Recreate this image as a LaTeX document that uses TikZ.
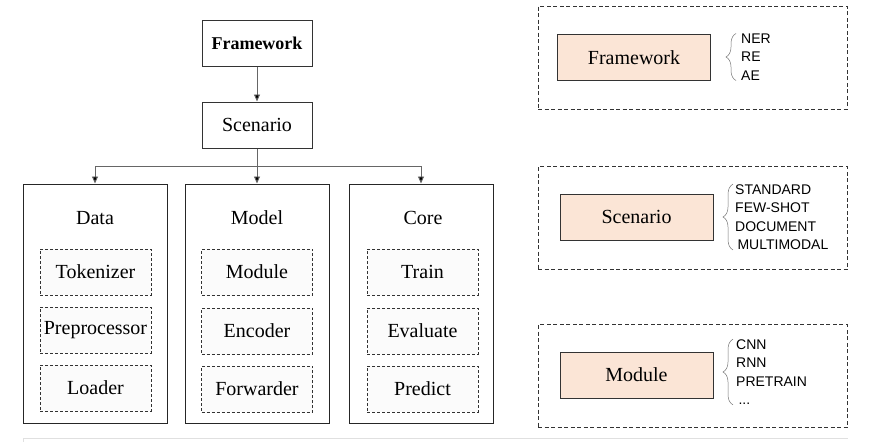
\documentclass[tikz,border=0pt]{standalone}
\usepackage{fontspec}
\setmainfont{Liberation Serif}
\setsansfont{Liberation Sans}
\usetikzlibrary{arrows.meta,positioning,decorations.pathreplacing}
\definecolor{peach}{HTML}{FBE5D6}

\begin{document}
\begin{tikzpicture}[x=1pt,y=-1pt,
 box/.style={draw=black!80,line width=1pt,minimum width=110pt,minimum height=46pt,font=\fontsize{20}{24}\selectfont},
 col/.style={draw=black!85,line width=0.95pt,minimum width=144pt,minimum height=239pt},
 ttl/.style={font=\fontsize{20}{24}\selectfont},
 sub/.style={draw=black!80,dash pattern=on 3pt off 2pt,line width=0.9pt,fill=gray!3,inner sep=1pt,minimum width=111pt,minimum height=46pt,font=\fontsize{20}{24}\selectfont},
 grp/.style={draw=black!80,dash pattern=on 4pt off 2.5pt,line width=0.9pt,minimum width=309pt,minimum height=103pt},
 key/.style={draw=black!80,line width=0.9pt,fill=peach,minimum width=153pt,minimum height=46pt,font=\fontsize{20}{24}\selectfont},
 lst/.style={anchor=west,align=left,inner sep=0pt,font=\sffamily\fontsize{14}{18.5}\selectfont},
 brc/.style={draw=black!55,line width=0.5pt,decorate,decoration={brace,amplitude=10pt}},
 arr/.style={draw=black!60,line width=0.9pt,-{Triangle[length=7pt,width=6pt,fill=black]}}]
\useasboundingbox (0,0) rectangle (872,442);
% hierarchy
\node[box,font=\bfseries\fontsize{18}{22}\selectfont] (fw) at (257,43) {Framework};
\node[box] (sc) at (257,125) {Scenario};
\node[col] (data) at (95,303.5) {};
\node[col] (model) at (257,303.5) {};
\node[col] (core) at (421,303.5) {};
\coordinate (split) at (257,166);
\draw[arr] (fw)--(sc);
\draw[draw=black!60,line width=0.9pt] (sc)--(split);
\draw[arr] (split)-|(data.north);\draw[arr] (split)--(model.north);\draw[arr] (split)-|(core.north);
% column contents
\node[ttl] (tdata) at (95,218) {Data};
\node[sub] (tok) at (95.5,272) {Tokenizer};
\node[sub] (pre) at (95.5,330) {Preprocessor};
\node[sub] (load) at (95.5,388) {Loader};
\node[ttl] (tmodel) at (257,218) {Model};
\node[sub] (mod) at (257,272) {Module};
\node[sub] (enc) at (257,331) {Encoder};
\node[sub] (fwd) at (257,389) {Forwarder};
\node[ttl] (tcore) at (423,218) {Core};
\node[sub] (train) at (422.5,272) {Train};
\node[sub] (eval) at (422.5,331) {Evaluate};
\node[sub] (pred) at (422.5,389) {Predict};
% legend groups
\node[grp] (g1) at (692.5,57.5) {};
\node[key] (k1) at (634,57.5) {Framework};
\node[lst] (l1) at (741,57) {NER\\RE\\AE};
\draw[brc] ([xshift=-5pt]l1.south west)--([xshift=-5pt]l1.north west);
\node[grp] (g2) at (692.5,218) {};
\node[key] (k2) at (636.5,217) {Scenario};
\node[lst] (l2) at (735,217) {STANDARD\\FEW-SHOT\\DOCUMENT\\\,MULTIMODAL};
\draw[brc] ([xshift=-2pt]l2.south west)--([xshift=-2pt]l2.north west);
\node[grp] (g3) at (692.5,376) {};
\node[key] (k3) at (636.5,375) {Module};
\node[lst] (l3) at (736,372) {CNN\\RNN\\PRETRAIN\\\,...};
\draw[brc] ([xshift=-3pt]l3.south west)--([xshift=-3pt]l3.north west);
\draw[black!12,line width=0.8pt] (23,442)|-(848,438);
\end{tikzpicture}
\end{document}
